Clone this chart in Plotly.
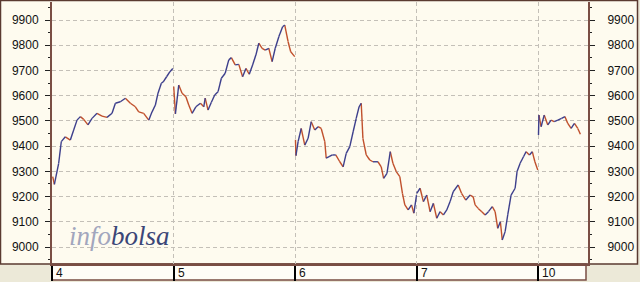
import plotly.graph_objects as go

# ---- data (minutes since session open, index level) ----
day_labels = ["4", "5", "6", "7", "10"]
session_minutes = 510

t4 = [3, 10, 28, 39, 56, 77, 91, 105, 119, 133, 151, 168, 189, 210, 231, 252, 266, 287,
      308, 329, 350, 364, 385, 406, 420, 434, 445, 459, 467, 481, 495, 507]
v4 = [9279, 9248, 9332, 9418, 9437, 9424, 9464, 9503, 9517, 9506, 9484, 9510, 9530, 9519,
      9514, 9530, 9570, 9576, 9590, 9570, 9556, 9536, 9530, 9503, 9536, 9563, 9610, 9649,
      9655, 9675, 9695, 9708]

t5 = [1, 8, 22, 36, 52, 64, 78, 94, 113, 127, 133, 145, 159, 173, 187, 201, 217, 232, 243,
      259, 274, 290, 304, 318, 332, 346, 358, 372, 385, 400, 414, 427, 442, 458, 467, 481,
      492, 509]
v5 = [9636, 9528, 9642, 9610, 9596, 9563, 9530, 9556, 9570, 9556, 9590, 9543, 9574, 9603,
      9616, 9669, 9689, 9742, 9751, 9722, 9724, 9675, 9708, 9685, 9722, 9762, 9808, 9788,
      9781, 9788, 9735, 9788, 9834, 9873, 9880, 9814, 9774, 9755]

t6 = [2, 4, 13, 26, 41, 55, 68, 83, 97, 110, 125, 131, 143, 157, 171, 188, 202, 215, 230,
      244, 257, 269, 278, 285, 299, 314, 327, 348, 362, 372, 386, 400, 411, 425, 440, 451,
      461, 475, 489, 499, 510]
v6 = [9425, 9362, 9418, 9470, 9404, 9431, 9497, 9464, 9477, 9470, 9418, 9352, 9358, 9365,
      9365, 9338, 9318, 9371, 9398, 9457, 9510, 9556, 9570, 9431, 9365, 9345, 9338, 9338,
      9318, 9272, 9292, 9378, 9332, 9299, 9279, 9213, 9167, 9147, 9167, 9134, 9206]

t7 = [1, 15, 29, 43, 57, 71, 85, 99, 113, 127, 141, 154, 175, 189, 207, 225, 238, 246, 259,
      274, 288, 302, 318, 330, 341, 352, 360, 372, 383, 397, 414, 422, 435, 449, 460, 474,
      486, 497, 509]
v7 = [9213, 9233, 9180, 9206, 9140, 9173, 9114, 9140, 9127, 9147, 9180, 9219, 9246, 9213,
      9186, 9206, 9199, 9167, 9153, 9140, 9127, 9140, 9160, 9140, 9074, 9100, 9028, 9061,
      9127, 9206, 9233, 9299, 9332, 9358, 9378, 9365, 9378, 9338, 9305]

t10 = [2, 4, 13, 26, 41, 55, 68, 83, 99, 113, 125, 139, 153, 167, 178]
v10 = [9444, 9523, 9477, 9523, 9484, 9503, 9497, 9503, 9510, 9517, 9490, 9470, 9490, 9470,
       9447]

days_t = [t4, t5, t6, t7, t10]
days_v = [v4, v5, v6, v7, v10]

y_ticks = [9000, 9100, 9200, 9300, 9400, 9500, 9600, 9700, 9800, 9900]

# ---- styling ----
W, H = 640, 282
cream = "#fefbef"
gray = "#ece9d8"
brown = "#7a4e44"
up_col = "#3d3f8c"
dn_col = "#c0502c"
grid_col = "#c4c0b8"


def px(x):
    return x / W


def py(y):
    return 1 - y / H


up_x, up_y, dn_x, dn_y = [], [], [], []
for d, (ts, vs) in enumerate(zip(days_t, days_v)):
    xs = [d + t / session_minutes for t in ts]
    for i in range(len(vs) - 1):
        if vs[i + 1] >= vs[i]:
            up_x += [xs[i], xs[i + 1], None]
            up_y += [vs[i], vs[i + 1], None]
        else:
            dn_x += [xs[i], xs[i + 1], None]
            dn_y += [vs[i], vs[i + 1], None]

fig = go.Figure()
fig.add_trace(go.Scatter(x=dn_x, y=dn_y, mode="lines", line=dict(color=dn_col, width=1.4),
                         hoverinfo="skip", showlegend=False))
fig.add_trace(go.Scatter(x=up_x, y=up_y, mode="lines", line=dict(color=up_col, width=1.4),
                         hoverinfo="skip", showlegend=False, yaxis="y2"))

day_px = 121.5
x_left, x_right = 52, 588
y_top, y_bot = 2, 264
y_per_px = 100 / 25.22
y_lo = 9000 - (y_bot - 247) * y_per_px
y_hi = 9000 + (247 - y_top) * y_per_px

yaxis_common = dict(
    range=[y_lo, y_hi], tickvals=y_ticks, ticktext=[str(v) for v in y_ticks],
    ticks="outside", ticklen=5, tickwidth=1,
    tickcolor="#222222", showline=True, linecolor=brown, linewidth=2,
    tickfont=dict(family="Liberation Sans", size=12, color="#111111"),
    minor=dict(tickvals=[v + 50 for v in [8900] + y_ticks], ticks="outside", ticklen=2,
               tickcolor="#222222", showgrid=False),
    zeroline=False, fixedrange=True,
    domain=[py(y_bot), py(y_top)],
)

fig.update_layout(
    width=W, height=H, margin=dict(l=0, r=0, t=0, b=0),
    paper_bgcolor=gray, plot_bgcolor=cream,
    xaxis=dict(
        domain=[px(x_left), px(x_right)],
        range=[0, (x_right - x_left) / day_px],
        tickvals=list(range(len(day_labels))), showticklabels=False,
        ticks="outside", ticklen=15, tickwidth=1.5, tickcolor="#000000",
        showgrid=True, gridcolor=grid_col, griddash="4px,3px", gridwidth=1,
        showline=True, linecolor=brown, linewidth=2, zeroline=False, fixedrange=True,
    ),
    yaxis=dict(**yaxis_common, side="left", showgrid=True, gridcolor=grid_col,
               griddash="4px,3px", ticklabelstandoff=4),
    yaxis2=dict(**yaxis_common, side="right", overlaying="y", anchor="x",
                showgrid=False, ticklabelstandoff=10),
    shapes=[
        dict(type="rect", xref="paper", yref="paper", x0=px(0.5), x1=px(637.5),
             y0=py(264), y1=py(0.5), fillcolor=cream, line=dict(color="#5a3a30", width=1.5),
             layer="below"),
        dict(type="rect", xref="paper", yref="paper", x0=px(52), x1=px(586), y0=py(280),
             y1=py(264), fillcolor="#fffdf7", line=dict(color=brown, width=1.5),
             layer="below"),
    ],
)

annotations = []
for d, lab in enumerate(day_labels):
    annotations.append(dict(
        x=d, xref="x", xanchor="left", xshift=2, y=py(273), yref="paper", yanchor="middle",
        text=lab, showarrow=False, font=dict(family="Liberation Sans", size=12, color="#111111"),
    ))
annotations.append(dict(
    x=px(67), xref="paper", xanchor="left", y=py(236), yref="paper", yanchor="middle",
    text="<i><span style='color:#a2a6bd'>info</span><span style='color:#3b4677'>bolsa</span></i>",
    showarrow=False, font=dict(family="Liberation Serif", size=27),
))
fig.update_layout(annotations=annotations)

fig.write_html("out.html")
